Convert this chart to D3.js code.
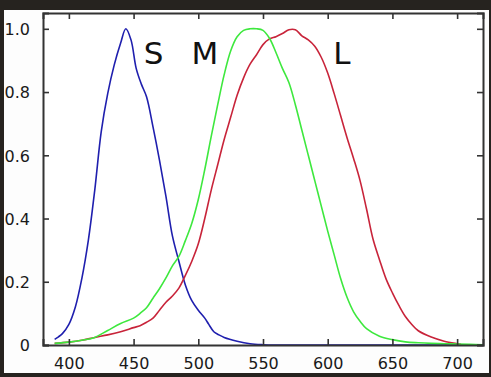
<!DOCTYPE html>
<html><head><meta charset="utf-8">
<script src="https://cdn.jsdelivr.net/npm/d3@7"></script>
<style>html,body{margin:0;padding:0;background:#26231f;}svg{display:block;}</style>
</head><body><svg id="c" width="491" height="377"></svg>
<script>
// Wavelengths (nm) and normalized cone sensitivities
const blueNm  = [389,392,395,400,405,410,415,420,425,430,435,440,444,448,452,456,460,465,470,475,480,485,490,495,500,505,508,512,516,520,530,540,550,560,600,650,700,720];
const blueVal = [0.018,0.026,0.036,0.065,0.12,0.21,0.33,0.49,0.675,0.795,0.885,0.955,1.0,0.965,0.875,0.825,0.785,0.69,0.585,0.47,0.345,0.265,0.19,0.14,0.11,0.085,0.066,0.042,0.032,0.024,0.012,0.004,0.001,0,0,0,0,0];

const greenNm  = [389,400,410,420,430,440,450,455,460,465,470,475,480,485,490,495,500,505,510,515,520,525,530,535,540,545,550,555,560,565,570,575,580,585,590,595,600,605,610,615,620,625,630,640,650,660,670,680,690,700,710,720];
const greenVal = [0.005,0.009,0.015,0.024,0.046,0.068,0.085,0.1,0.118,0.148,0.178,0.212,0.25,0.28,0.33,0.385,0.46,0.555,0.66,0.76,0.855,0.93,0.975,0.995,1.0,1.0,0.995,0.97,0.925,0.875,0.83,0.76,0.68,0.6,0.52,0.44,0.36,0.285,0.21,0.15,0.105,0.075,0.052,0.028,0.017,0.01,0.007,0.005,0.004,0.003,0.002,0.001];

const redNm  = [389,400,410,420,430,440,450,455,460,465,470,475,480,485,490,495,500,505,510,515,520,525,530,535,540,545,550,555,560,565,570,575,580,585,590,595,600,605,610,615,620,625,630,635,640,645,650,655,660,665,670,680,690,700,703];
const redVal = [0.005,0.009,0.015,0.024,0.032,0.042,0.055,0.061,0.072,0.085,0.11,0.135,0.155,0.18,0.22,0.265,0.32,0.4,0.49,0.57,0.65,0.72,0.79,0.845,0.888,0.918,0.95,0.968,0.975,0.985,0.997,0.997,0.978,0.965,0.945,0.91,0.86,0.795,0.725,0.655,0.59,0.52,0.43,0.335,0.27,0.21,0.165,0.125,0.09,0.065,0.045,0.025,0.012,0.004,0.002];

const xTicks = [400,450,500,550,600,650,700];
const yTicks = [0,0.2,0.4,0.6,0.8,1.0];
const yTickLabels = ["0","0.2","0.4","0.6","0.8","1.0"];
const coneLabels = ["S","M","L"];
const coneLabelNm = [465.5,505,611];

const svg = d3.select("#c");
svg.append("rect").attr("x",4).attr("y",10).attr("width",485).attr("height",363).attr("fill","#fdfdfd");

const L=43,R=483,T=13,B=345;
const x = d3.scaleLinear().domain([380,720]).range([L,R]);
const y = d3.scaleLinear().domain([0,1.05]).range([B,T]);

svg.append("rect").attr("x",L).attr("y",T).attr("width",R-L).attr("height",B-T).attr("fill","#ffffff");

const line = d3.line().x(d=>x(d[0])).y(d=>y(d[1])).curve(d3.curveCatmullRom.alpha(0.5));
svg.append("clipPath").attr("id","pc").append("rect").attr("x",L).attr("y",T).attr("width",R-L).attr("height",B-T);
const g = svg.append("g").attr("clip-path","url(#pc)");
function draw(nm,val,col){
  g.append("path").datum(nm.map((n,i)=>[n,Math.max(0,val[i])])).attr("d",line)
   .attr("fill","none").attr("stroke",col).attr("stroke-width",1.6).attr("stroke-linejoin","round");
}
draw(blueNm,blueVal,"#1f1fae");
draw(redNm,redVal,"#c8243a");
draw(greenNm,greenVal,"#3ee83e");

const axCol="#333333", tl=6;
const font="DejaVu Sans, sans-serif";
const xb = svg.append("g").attr("transform",`translate(0,${B})`).call(d3.axisBottom(x).tickValues(xTicks).tickSize(-tl).tickPadding(13).tickFormat(d3.format("d")));
const xt = svg.append("g").attr("transform",`translate(0,${T})`).call(d3.axisTop(x).tickValues(xTicks).tickSize(-tl).tickFormat(""));
const yl = svg.append("g").attr("transform",`translate(${L},0)`).call(d3.axisLeft(y).tickValues(yTicks).tickSize(-tl).tickPadding(13).tickFormat((d,i)=>yTickLabels[i]));
const yr = svg.append("g").attr("transform",`translate(${R},0)`).call(d3.axisRight(y).tickValues(yTicks).tickSize(-tl).tickFormat(""));
[xb,xt,yl,yr].forEach(a=>{
  a.select(".domain").attr("stroke",axCol).attr("stroke-width",2);
  a.selectAll(".tick line").attr("stroke",axCol).attr("stroke-width",1.6);
  a.selectAll("text").attr("fill","#1a1a1a").style("font-family",font).style("font-size","16px");
});
xb.selectAll("text").attr("dy","0.71em");
yl.selectAll("text").attr("dy","0.36em");

svg.append("g").selectAll("text").data(coneLabels).join("text")
  .attr("x",(d,i)=>x(coneLabelNm[i])).attr("y",64)
  .attr("text-anchor","middle").attr("fill","#111")
  .style("font-family",font).style("font-size","31px").text(d=>d);
</script></body></html>
